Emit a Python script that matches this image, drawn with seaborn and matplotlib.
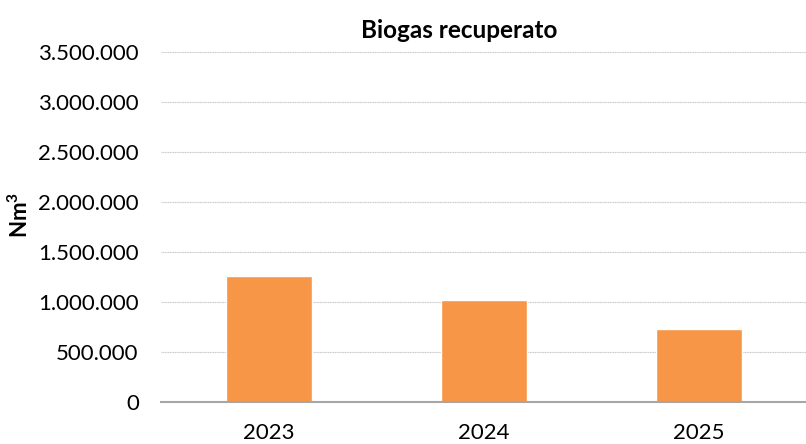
import matplotlib
matplotlib.use("Agg")
import matplotlib.pyplot as plt
import seaborn as sns
import pandas as pd
from matplotlib.ticker import FuncFormatter

years = ["2023", "2024", "2025"]
values = [1258000, 1017000, 732000]
yticks = [0, 500000, 1000000, 1500000, 2000000, 2500000, 3000000, 3500000]

sns.set_theme(style="white")
plt.rcParams['font.family'] = ['Lato', 'DejaVu Sans']
plt.rcParams['mathtext.fontset'] = 'custom'
plt.rcParams['mathtext.rm'] = 'Lato'
plt.rcParams['mathtext.bf'] = 'Lato:bold'
plt.rcParams['text.color'] = 'black'
plt.rcParams['axes.labelcolor'] = 'black'

df = pd.DataFrame({"Anno": years, "Nm3": values})

fig = plt.figure(figsize=(8.06, 4.44), dpi=100)
ax = fig.add_axes([161/806, 1 - 402/444, 645/806, 350/444])

sns.barplot(data=df, x="Anno", y="Nm3", color="#F79646", width=0.40,
            saturation=1, ax=ax, zorder=3)

ax.set_ylim(0, 3500000)
ax.set_xlim(-0.5, 2.5)
ax.set_yticks(yticks)
ax.yaxis.set_major_formatter(FuncFormatter(lambda v, p: f"{int(v):,}".replace(",", ".")))
ax.grid(axis="y", color="#c8c8c8", linewidth=0.8, linestyle=(0, (1, 0.5)), zorder=0)
ax.set_axisbelow(True)
for s in ["top", "right", "left"]:
    ax.spines[s].set_visible(False)
ax.spines["bottom"].set_color("#a6a6a6")
ax.spines["bottom"].set_linewidth(1.5)
ax.spines["bottom"].set_zorder(4)
ax.tick_params(axis="both", length=0, labelsize=16, colors="black")
ax.tick_params(axis="y", pad=16)
ax.tick_params(axis="x", pad=15)
ax.set_xlabel("")
ax.set_ylabel(r"$\mathbf{Nm^3}$", fontsize=16, color="black")
ax.yaxis.set_label_coords(-0.2, 0.535)

fig.text(459/806, 1 - 30/444, "Biogas recuperato", ha="center", va="center",
         fontsize=17.5, fontweight="bold", color="black")

fig.savefig("out.png", dpi=100)
